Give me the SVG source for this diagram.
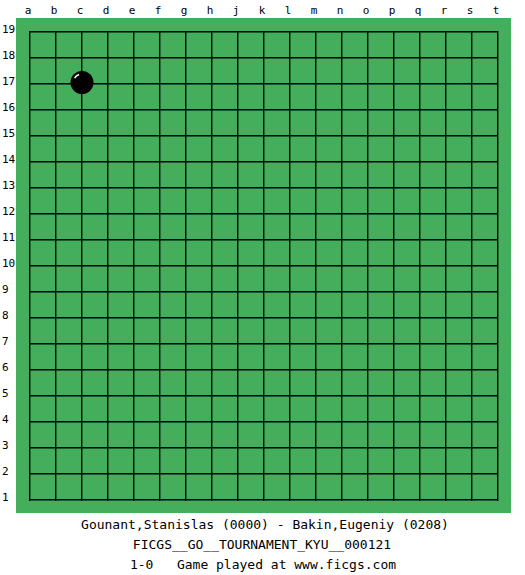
<svg xmlns="http://www.w3.org/2000/svg" width="525" height="575" viewBox="0 0 525 575">
<style>
.lbl{font-family:"DejaVu Sans Mono","Liberation Mono",monospace;font-size:11px;fill:#000}
.col{text-anchor:middle}
.txt{font-family:"DejaVu Sans Mono","Liberation Mono",monospace;font-size:13px;fill:#000;text-anchor:middle}
.grid{stroke:#000;stroke-width:1.4;fill:none}
</style>
<rect width="525" height="575" fill="#fff"/>
<g id="board">
<rect x="16" y="18" width="495" height="495" fill="#44ae5c"/>
<path class="grid" d="M29.7 31V501M55.7 31V501M81.7 31V501M107.7 31V501M133.7 31V501M159.7 31V501M185.7 31V501M211.7 31V501M237.7 31V501M263.7 31V501M289.7 31V501M315.7 31V501M341.7 31V501M367.7 31V501M393.7 31V501M419.7 31V501M445.7 31V501M471.7 31V501M497.7 31V501
M29 31.7H498.4M29 57.7H498.4M29 83.7H498.4M29 109.7H498.4M29 135.7H498.4M29 161.7H498.4M29 187.7H498.4M29 213.7H498.4M29 239.7H498.4M29 265.7H498.4M29 291.7H498.4M29 317.7H498.4M29 343.7H498.4M29 369.7H498.4M29 395.7H498.4M29 421.7H498.4M29 447.7H498.4M29 473.7H498.4M29 499.7H498.4"/>
</g>
<g id="column-labels" class="lbl col">
<text x="28" y="14">a</text><text x="54" y="14">b</text><text x="80" y="14">c</text><text x="106" y="14">d</text><text x="132" y="14">e</text><text x="158" y="14">f</text><text x="184" y="14">g</text><text x="210" y="14">h</text><text x="236" y="14">j</text><text x="262" y="14">k</text><text x="288" y="14">l</text><text x="314" y="14">m</text><text x="340" y="14">n</text><text x="366" y="14">o</text><text x="392" y="14">p</text><text x="418" y="14">q</text><text x="444" y="14">r</text><text x="470" y="14">s</text><text x="496" y="14">t</text>
</g>
<g id="row-labels" class="lbl">
<text x="2" y="33">19</text><text x="2" y="59">18</text><text x="2" y="85">17</text><text x="2" y="111">16</text><text x="2" y="137">15</text><text x="2" y="163">14</text><text x="2" y="189">13</text><text x="2" y="215">12</text><text x="2" y="241">11</text><text x="2" y="267">10</text><text x="2" y="293">9</text><text x="2" y="319">8</text><text x="2" y="345">7</text><text x="2" y="371">6</text><text x="2" y="397">5</text><text x="2" y="423">4</text><text x="2" y="449">3</text><text x="2" y="475">2</text><text x="2" y="501">1</text>
</g>
<g id="stone-c17">
<circle cx="82" cy="82.5" r="11.5" fill="#000"/>
<path d="M74.6 78.2A8.5 8.5 0 0 1 79.1 74.5" stroke="#fff" stroke-width="1.5" fill="none"/>
</g>
<g id="caption">
<text class="txt" x="265" y="529">Gounant,Stanislas (0000) - Bakin,Eugeniy (0208)</text>
<text class="txt" x="262" y="549">FICGS__GO__TOURNAMENT_KYU__000121</text>
<text class="txt" x="263" y="569" xml:space="preserve">1-0   Game played at www.ficgs.com</text>
</g>
</svg>
